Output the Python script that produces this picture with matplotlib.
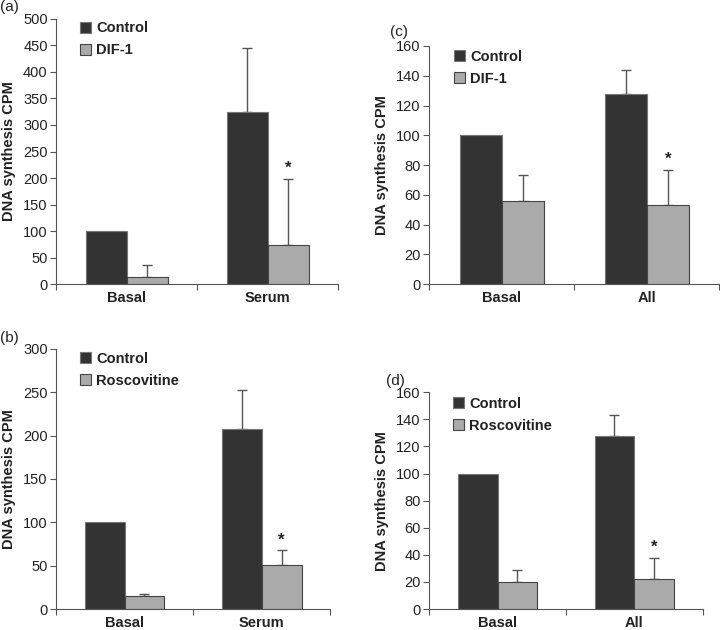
import matplotlib
matplotlib.use("Agg")
import matplotlib.pyplot as plt
from matplotlib.transforms import offset_copy
import numpy as np

plt.rcParams['font.family'] = ['Liberation Sans', 'DejaVu Sans']

# ---- data ----
cats_ab = ["Basal", "Serum"]
cats_cd = ["Basal", "All"]

a_control = [100, 325]
a_control_err = [0, 120]
a_dif = [14, 74]
a_dif_err = [23, 125]

b_control = [100, 208]
b_control_err = [0, 44]
b_rosc = [15, 51]
b_rosc_err = [2, 17]

c_control = [100, 128]
c_control_err = [0, 16]
c_dif = [56, 53]
c_dif_err = [17, 24]

d_control = [100, 128]
d_control_err = [0, 15]
d_rosc = [20, 22]
d_rosc_err = [9, 16]

panels = [
    dict(tag="(a)", cats=cats_ab, ctrl=a_control, ctrl_err=a_control_err,
         trt=a_dif, trt_err=a_dif_err, trt_name="DIF-1", ymax=500, step=50,
         rect=[0.0778, 0.549, 0.392, 0.421], tagpos=(0.0, 0.978)),
    dict(tag="(c)", cats=cats_cd, ctrl=c_control, ctrl_err=c_control_err,
         trt=c_dif, trt_err=c_dif_err, trt_name="DIF-1", ymax=160, step=20,
         rect=[0.596, 0.549, 0.403, 0.378], tagpos=(0.541, 0.938)),
    dict(tag="(b)", cats=cats_ab, ctrl=b_control, ctrl_err=b_control_err,
         trt=b_rosc, trt_err=b_rosc_err, trt_name="Roscovitine", ymax=300, step=50,
         rect=[0.0778, 0.0333, 0.381, 0.413], tagpos=(0.0, 0.452)),
    dict(tag="(d)", cats=cats_cd, ctrl=d_control, ctrl_err=d_control_err,
         trt=d_rosc, trt_err=d_rosc_err, trt_name="Roscovitine", ymax=160, step=20,
         rect=[0.596, 0.0333, 0.380, 0.344], tagpos=(0.536, 0.384)),
]

dark = "#333333"
light = "#aaaaaa"
w = 0.29

fig = plt.figure(figsize=(7.2, 6.3), dpi=100)

for p in panels:
    ax = fig.add_axes(p["rect"])
    x = np.arange(len(p["cats"]))
    ax.bar(x - w / 2, p["ctrl"], w, color=dark, edgecolor="#777777", linewidth=0.8,
           label="Control", zorder=2)
    ax.bar(x + w / 2, p["trt"], w, color=light, edgecolor="#444444", linewidth=0.8,
           label=p["trt_name"], zorder=2)
    for xi, v, e in zip(x - w / 2, p["ctrl"], p["ctrl_err"]):
        if e > 0:
            ax.errorbar(xi, v, yerr=[[0], [e]], fmt="none", ecolor="#555555",
                        elinewidth=1.0, capsize=3.5, capthick=1.0, zorder=1)
    for xi, v, e in zip(x + w / 2, p["trt"], p["trt_err"]):
        if e > 0:
            ax.errorbar(xi, v, yerr=[[0], [e]], fmt="none", ecolor="#555555",
                        elinewidth=1.0, capsize=3.5, capthick=1.0, zorder=1)
    # significance star on the second category treatment bar
    top = p["trt"][1] + p["trt_err"][1]
    ax.annotate("*", (x[1] + w / 2, top), xytext=(0, 2), textcoords="offset points",
                ha="center", va="bottom", fontsize=12, fontweight="bold", color="#222222")

    ax.set_xlim(-0.5, len(p["cats"]) - 0.5)
    ax.set_ylim(0, p["ymax"])
    ax.set_yticks(np.arange(0, p["ymax"] + 1, p["step"]))
    ax.set_xticks(np.arange(-0.5, len(p["cats"]), 1.0))
    ax.set_xticklabels([])
    ax.tick_params(axis="y", labelsize=10.5, colors="#555555", length=4, width=0.8,
                   direction="out", pad=2)
    ax.tick_params(axis="x", length=4, width=0.8, direction="out", colors="#555555")
    for lbl in ax.get_yticklabels():
        lbl.set_color("#222222")
    for s in ["top", "right"]:
        ax.spines[s].set_visible(False)
    for s in ["left", "bottom"]:
        ax.spines[s].set_color("#555555")
        ax.spines[s].set_linewidth(0.8)
    trans = offset_copy(ax.get_xaxis_transform(), fig=fig, x=0, y=-5, units="points")
    for xi, c in zip(x, p["cats"]):
        ax.text(xi, 0, c, transform=trans, ha="center",
                va="top", fontsize=10.5, fontweight="bold", color="#222222")
    ax.set_ylabel("DNA synthesis CPM", fontsize=10.5, fontweight="bold", color="#222222",
                  labelpad=5)
    leg = ax.legend(loc="upper left", bbox_to_anchor=(0.04, 1.04), frameon=False,
                    handlelength=0.75, handleheight=0.75, handletextpad=0.35,
                    labelspacing=0.55, prop=dict(size=10.5, weight="bold"))
    for t in leg.get_texts():
        t.set_color("#222222")
    fig.text(p["tagpos"][0], p["tagpos"][1], p["tag"], fontsize=11, color="#222222",
             ha="left", va="bottom")

fig.savefig("out.png", dpi=100)
